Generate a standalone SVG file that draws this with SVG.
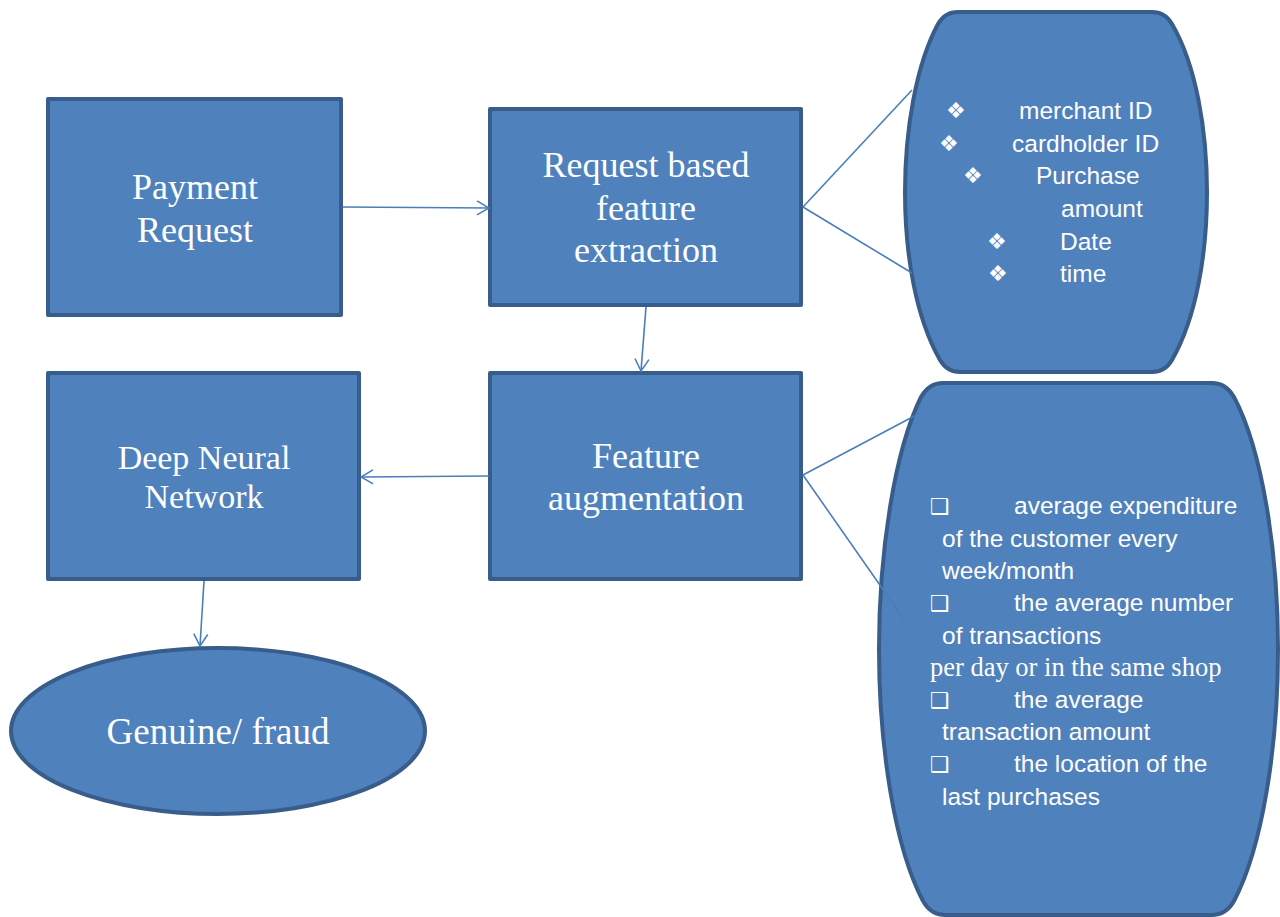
<svg xmlns="http://www.w3.org/2000/svg" width="1280" height="917" viewBox="0 0 1280 917">
<style>
.box{fill:#4f81bd;stroke:#385d8a;stroke-width:4;stroke-linejoin:round}
.ser{font-family:"Liberation Serif","Times New Roman",serif;fill:#fff;text-anchor:middle}
.sans{font-family:"Liberation Sans",Arial,sans-serif;fill:#fff;font-size:24.5px}
.sym{font-family:"DejaVu Sans",sans-serif;fill:#fff;font-size:22px}
.con{fill:none;stroke:#4a7ebb;stroke-width:1.6}
</style>
<defs>
<marker id="arr" viewBox="0 0 14 16" refX="13" refY="8" markerWidth="14" markerHeight="16" markerUnits="userSpaceOnUse" orient="auto">
<path d="M1,1 L13,8 L1,15" fill="none" stroke="#4a7ebb" stroke-width="1.6"/>
</marker>
</defs>
<rect width="1280" height="917" fill="#fff"/>
<g id="payment-request">
<rect class="box" x="48" y="99" width="293" height="216"/>
<text class="ser" font-size="36" x="195" y="199">Payment</text>
<text class="ser" font-size="36" x="195" y="242">Request</text>
</g>
<g id="feature-extraction">
<rect class="box" x="490" y="109" width="311" height="196"/>
<text class="ser" font-size="36" x="646" y="177">Request based</text>
<text class="ser" font-size="36" x="646" y="220">feature</text>
<text class="ser" font-size="36" x="646" y="262">extraction</text>
</g>
<g id="feature-augmentation">
<rect class="box" x="490" y="373" width="311" height="206"/>
<text class="ser" font-size="36" x="646" y="468">Feature</text>
<text class="ser" font-size="36" x="646" y="510">augmentation</text>
</g>
<g id="deep-neural-network">
<rect class="box" x="48" y="373" width="311" height="206"/>
<text class="ser" font-size="34" x="204" y="469">Deep Neural</text>
<text class="ser" font-size="34" x="204" y="508">Network</text>
</g>
<g id="genuine-fraud">
<ellipse class="box" cx="218" cy="731" rx="207" ry="83"/>
<text class="ser" font-size="37" x="218" y="744">Genuine/ fraud</text>
</g>
<g id="request-features">
<path class="box" d="M958,12 L1152,12 Q1165,12 1172,24 C1196,65 1207,130 1207,192 C1207,255 1196,318 1172,360 Q1165,372 1152,372 L960,372 Q947,372 940,360 C916,318 905,255 905,192 C905,130 916,65 938,24 Q945,12 958,12 Z"/>
<text class="sym" x="946" y="118">❖</text>
<text class="sans" x="1019" y="119">merchant ID</text>
<text class="sym" x="939" y="151">❖</text>
<text class="sans" x="1012" y="152">cardholder ID</text>
<text class="sym" x="963" y="183">❖</text>
<text class="sans" x="1036" y="184">Purchase</text>
<text class="sans" x="1061" y="217">amount</text>
<text class="sym" x="987" y="249">❖</text>
<text class="sans" x="1060" y="250">Date</text>
<text class="sym" x="988" y="281">❖</text>
<text class="sans" x="1060" y="282">time</text>
</g>
<g id="augmented-features">
<path class="box" d="M943,383 L1212,383 Q1226,383 1234,397 C1262,450 1278,550 1278,649 C1278,748 1262,848 1234,901 Q1226,915 1212,915 L945,915 Q931,915 923,901 C895,848 879,748 879,649 C879,550 895,450 921,397 Q929,383 943,383 Z"/>
<text class="sym" x="930" y="514">❑</text>
<text class="sans" x="1014" y="514">average expenditure</text>
<text class="sans" x="942" y="547">of the customer every</text>
<text class="sans" x="942" y="579">week/month</text>
<text class="sym" x="930" y="611">❑</text>
<text class="sans" x="1014" y="611">the average number</text>
<text class="sans" x="942" y="644">of transactions</text>
<text font-family="Liberation Serif,Times New Roman,serif" font-size="26.5" fill="#fff" x="930" y="676">per day or in the same shop</text>
<text class="sym" x="930" y="708">❑</text>
<text class="sans" x="1014" y="708">the average</text>
<text class="sans" x="942" y="740">transaction amount</text>
<text class="sym" x="930" y="772">❑</text>
<text class="sans" x="1014" y="772">the location of the</text>
<text class="sans" x="942" y="805">last purchases</text>
</g>
<g id="connectors">
<line class="con" x1="343" y1="207" x2="489" y2="208" marker-end="url(#arr)"/>
<line class="con" x1="646" y1="307" x2="641" y2="371" marker-end="url(#arr)"/>
<line class="con" x1="489" y1="476" x2="361" y2="477" marker-end="url(#arr)"/>
<line class="con" x1="204" y1="581" x2="200" y2="646" marker-end="url(#arr)"/>
<line class="con" x1="803" y1="207" x2="912" y2="90"/>
<line class="con" x1="803" y1="207" x2="912" y2="273"/>
<line class="con" x1="803" y1="475" x2="920" y2="413"/>
<line class="con" x1="803" y1="475" x2="905" y2="621"/>
</g>
</svg>
